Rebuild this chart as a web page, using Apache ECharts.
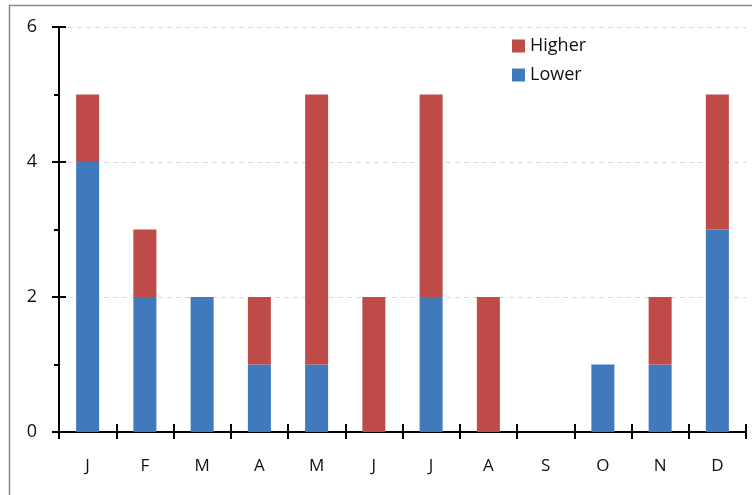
<!DOCTYPE html>
<html><head><meta charset="utf-8">
<script src="https://cdn.jsdelivr.net/npm/echarts@6/dist/echarts.min.js"></script>
<style>html,body{margin:0;padding:0;background:#fff}#c{width:752px;height:495px}</style>
</head><body><div id="c"></div>
<script>
const categories = ['J','F','M','A','M','J','J','A','S','O','N','D'];
const lower = [4,2,2,1,1,0,2,0,0,1,1,3];
const higher = [1,1,0,1,4,2,3,2,0,0,1,2];
const yTicks = [0,2,4,6];

const FONT = '"Open Sans", "Liberation Sans", sans-serif';
const chart = echarts.init(document.getElementById('c'), null, {renderer:'canvas'});
const axisLine = {show:true, lineStyle:{color:'#000', width:2}};
chart.setOption({
  animation:false,
  graphic:[{type:'rect', shape:{x:9.5,y:5.5,width:760,height:520}, style:{fill:'none', stroke:'#8a8a8a', lineWidth:1.5}, z:-1}],
  legend:{
    data:['Higher','Lower'], orient:'vertical', left:507, top:32, itemWidth:13, itemHeight:13, itemGap:11,
    icon:'rect', textStyle:{fontFamily:FONT, fontSize:18, color:'#111'}
  },
  grid:{left:59, top:27, right:6, bottom:63},
  xAxis:[{
    type:'category', data:categories, axisLine:axisLine,
    axisTick:{show:true, length:7, inside:false, lineStyle:{color:'#000', width:2}},
    axisLabel:{margin:26, fontFamily:FONT, fontSize:17, color:'#111'},
    splitLine:{show:false}
  },{
    type:'category', data:categories, position:'bottom', axisLine:{show:false},
    axisTick:{show:true, length:8, inside:true, lineStyle:{color:'#000', width:2}},
    axisLabel:{show:false}
  }],
  yAxis:[{
    type:'value', min:0, max:6, interval:2, axisLine:axisLine,
    axisTick:{show:true, length:7, inside:false, lineStyle:{color:'#000', width:2}},
    axisLabel:{margin:22, fontFamily:FONT, fontSize:18, color:'#111', formatter:v=>yTicks.includes(v)?String(v):''},
    splitLine:{show:true, lineStyle:{color:'#d9d9d9', type:[5,4], width:1}},
    minorTick:{show:true, splitNumber:2, length:5, lineStyle:{color:'#000', width:2}}
  },{
    type:'value', min:0, max:6, interval:2, position:'left', axisLine:{show:false},
    axisTick:{show:true, length:7, inside:true, lineStyle:{color:'#000', width:2}},
    axisLabel:{show:false}, splitLine:{show:false}
  }],
  series:[
    {name:'Lower', type:'bar', stack:'s', data:lower, barWidth:23,
     itemStyle:{color:'#4179BD', borderWidth:0}},
    {name:'Higher', type:'bar', stack:'s', data:higher, barWidth:23,
     itemStyle:{color:'#BE4B48', borderWidth:0}}
  ]
});
</script></body></html>
